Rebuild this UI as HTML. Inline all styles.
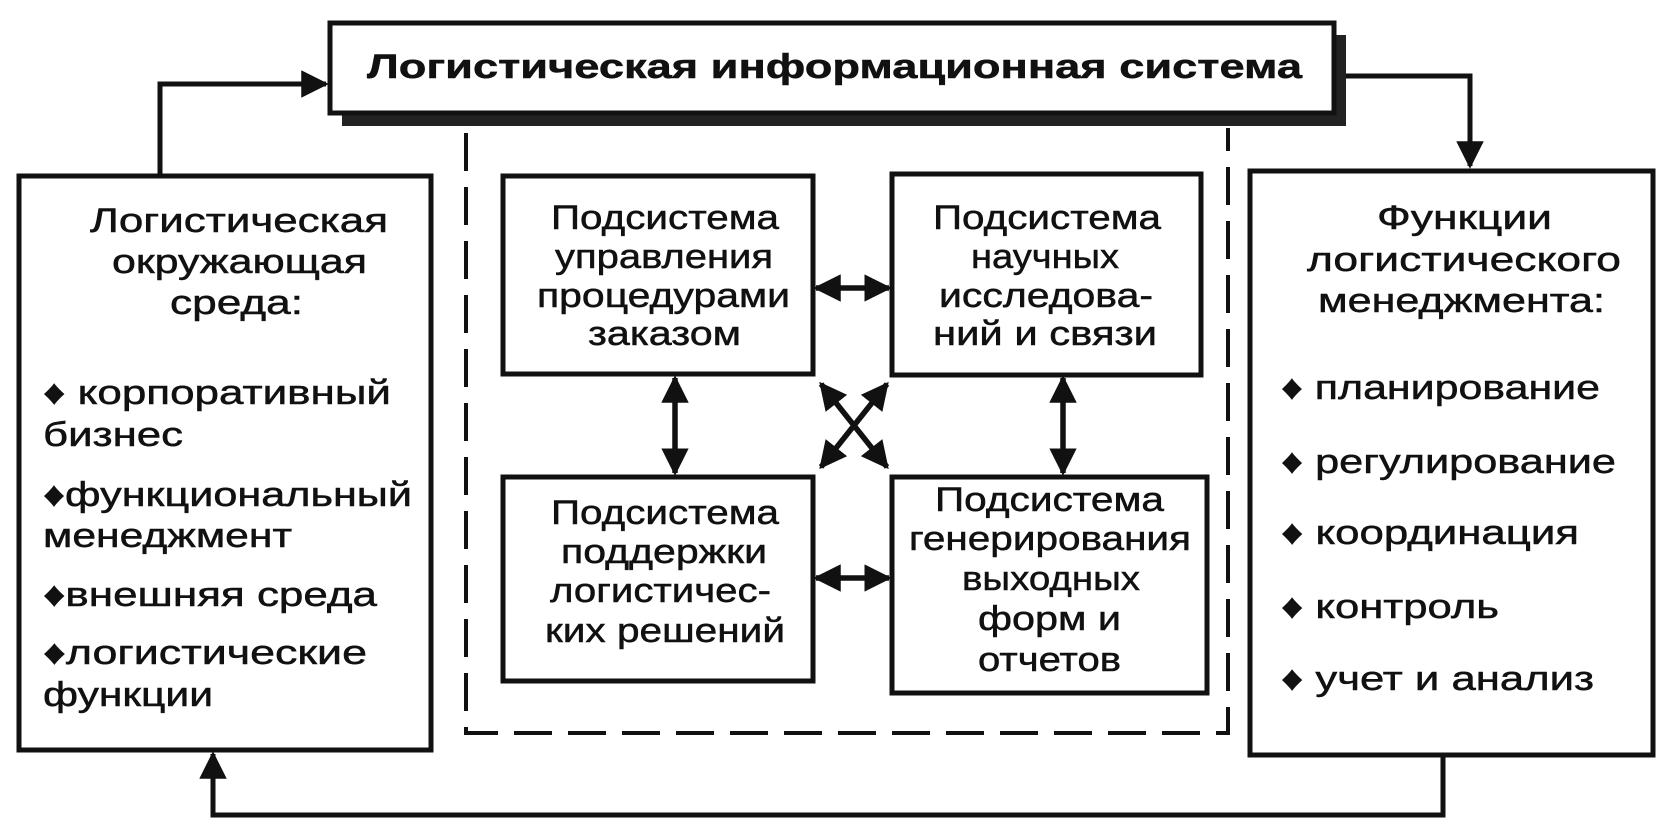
<!DOCTYPE html>
<html><head><meta charset="utf-8"><style>
html,body{margin:0;padding:0;background:#fff;}
svg{display:block;}
text{font-family:"Liberation Sans",sans-serif;font-size:34px;fill:#111;stroke:#111;stroke-width:0.5px;}
</style></head><body>
<svg width="1667" height="837" viewBox="0 0 1667 837" xmlns="http://www.w3.org/2000/svg">
<defs>
<marker id="ah" viewBox="0 0 10 10" refX="9" refY="5" markerWidth="6" markerHeight="5.5" orient="auto-start-reverse" markerUnits="strokeWidth">
<path d="M0,0 L10,5 L0,10 z" fill="#111"/></marker>
<marker id="ah2" viewBox="0 0 10 10" refX="9" refY="5" markerWidth="5" markerHeight="5" orient="auto-start-reverse" markerUnits="strokeWidth">
<path d="M0,0 L10,5 L0,10 z" fill="#111"/></marker>
</defs>
<g fill="none" stroke="#111">
<rect x="342" y="110" width="1004" height="16" fill="#222" stroke="none"/>
<rect x="1334" y="35" width="12" height="90" fill="#222" stroke="none"/>
<rect x="330" y="23" width="1004" height="90" fill="#fff" stroke-width="5"/>
<rect x="19" y="176" width="412" height="574" stroke-width="5" fill="#fff"/>
<rect x="1250" y="171" width="403" height="584" stroke-width="5" fill="#fff"/>
<path d="M466 133 V733 H1228 V128" stroke-width="4" stroke-dasharray="38,16"/>
<rect x="503" y="176" width="310" height="198" stroke-width="5"/>
<rect x="892" y="174" width="309" height="201" stroke-width="5"/>
<rect x="503" y="477" width="310" height="204" stroke-width="5"/>
<rect x="892" y="477" width="315" height="216" stroke-width="5"/>
<path d="M160 174 V84 H326" stroke-width="5" marker-end="url(#ah)"/>
<path d="M1346 76 H1470 V166" stroke-width="5" marker-end="url(#ah)"/>
<path d="M1443 755 V815 H213 V754" stroke-width="5" marker-end="url(#ah)"/>
<path d="M816 288 H889" stroke-width="5.5" marker-start="url(#ah2)" marker-end="url(#ah2)"/>
<path d="M816 578 H889" stroke-width="5.5" marker-start="url(#ah2)" marker-end="url(#ah2)"/>
<path d="M675 378 V473" stroke-width="5.5" marker-start="url(#ah2)" marker-end="url(#ah2)"/>
<path d="M1063 378 V473" stroke-width="5.5" marker-start="url(#ah2)" marker-end="url(#ah2)"/>
<path d="M821 384 L887 467" stroke-width="5.5" marker-start="url(#ah2)" marker-end="url(#ah2)"/>
<path d="M887 384 L821 467" stroke-width="5.5" marker-start="url(#ah2)" marker-end="url(#ah2)"/>
</g>
<text x="367" y="78" font-weight="bold" textLength="935" lengthAdjust="spacingAndGlyphs">Логистическая информационная система</text>
<g text-anchor="start">
<text x="90" y="232" textLength="298" lengthAdjust="spacingAndGlyphs">Логистическая</text>
<text x="112" y="273" textLength="255" lengthAdjust="spacingAndGlyphs">окружающая</text>
<text x="170" y="314" textLength="133" lengthAdjust="spacingAndGlyphs">среда:</text>
<text x="43" y="404" textLength="348" lengthAdjust="spacingAndGlyphs">♦ корпоративный</text>
<text x="43" y="446" textLength="140" lengthAdjust="spacingAndGlyphs">бизнес</text>
<text x="43" y="506" textLength="369" lengthAdjust="spacingAndGlyphs">♦функциональный</text>
<text x="43" y="547" textLength="249" lengthAdjust="spacingAndGlyphs">менеджмент</text>
<text x="43" y="606" textLength="334" lengthAdjust="spacingAndGlyphs">♦внешняя среда</text>
<text x="43" y="664" textLength="324" lengthAdjust="spacingAndGlyphs">♦логистические</text>
<text x="43" y="706" textLength="170" lengthAdjust="spacingAndGlyphs">функции</text>

<text x="1377" y="229" textLength="175" lengthAdjust="spacingAndGlyphs">Функции</text>
<text x="1307" y="271" textLength="314" lengthAdjust="spacingAndGlyphs">логистического</text>
<text x="1318" y="312" textLength="287" lengthAdjust="spacingAndGlyphs">менеджмента:</text>
<text x="1281" y="399" textLength="319" lengthAdjust="spacingAndGlyphs">♦ планирование</text>
<text x="1281" y="473" textLength="335" lengthAdjust="spacingAndGlyphs">♦ регулирование</text>
<text x="1281" y="544" textLength="298" lengthAdjust="spacingAndGlyphs">♦ координация</text>
<text x="1281" y="618" textLength="218" lengthAdjust="spacingAndGlyphs">♦ контроль</text>
<text x="1281" y="690" textLength="313" lengthAdjust="spacingAndGlyphs">♦ учет и анализ</text>

<text x="551" y="229" textLength="228" lengthAdjust="spacingAndGlyphs">Подсистема</text>
<text x="555" y="268" textLength="218" lengthAdjust="spacingAndGlyphs">управления</text>
<text x="537" y="307" textLength="253" lengthAdjust="spacingAndGlyphs">процедурами</text>
<text x="588" y="345" textLength="153" lengthAdjust="spacingAndGlyphs">заказом</text>

<text x="933" y="229" textLength="228" lengthAdjust="spacingAndGlyphs">Подсистема</text>
<text x="971" y="268" textLength="148" lengthAdjust="spacingAndGlyphs">научных</text>
<text x="939" y="307" textLength="214" lengthAdjust="spacingAndGlyphs">исследова-</text>
<text x="933" y="345" textLength="224" lengthAdjust="spacingAndGlyphs">ний и связи</text>

<text x="551" y="524" textLength="228" lengthAdjust="spacingAndGlyphs">Подсистема</text>
<text x="561" y="563" textLength="206" lengthAdjust="spacingAndGlyphs">поддержки</text>
<text x="550" y="602" textLength="221" lengthAdjust="spacingAndGlyphs">логистичес-</text>
<text x="545" y="642" textLength="240" lengthAdjust="spacingAndGlyphs">ких решений</text>

<text x="935" y="511" textLength="229" lengthAdjust="spacingAndGlyphs">Подсистема</text>
<text x="909" y="550" textLength="282" lengthAdjust="spacingAndGlyphs">генерирования</text>
<text x="962" y="590" textLength="178" lengthAdjust="spacingAndGlyphs">выходных</text>
<text x="978" y="630" textLength="143" lengthAdjust="spacingAndGlyphs">форм и</text>
<text x="978" y="671" textLength="143" lengthAdjust="spacingAndGlyphs">отчетов</text>
</g>
</svg>
</body></html>
